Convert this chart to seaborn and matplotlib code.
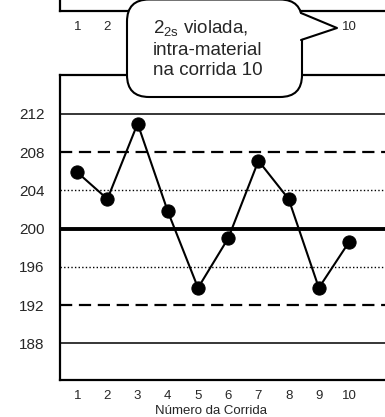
import matplotlib
matplotlib.use("Agg")
import matplotlib.pyplot as plt
from matplotlib.patches import FancyBboxPatch, Polygon
from matplotlib.lines import Line2D
from matplotlib.transforms import IdentityTransform
import seaborn as sns
import pandas as pd

# Run numbers and measured control values
runs = [1, 2, 3, 4, 5, 6, 7, 8, 9, 10]
values = [205.9, 203.1, 211.0, 201.8, 193.8, 199.0, 207.1, 203.1, 193.8, 198.6]

# Control limits: mean, ±1s, ±2s, ±3s
mean_line = 200
sd_lines = [204, 196]
two_sd_lines = [208, 192]
three_sd_lines = [212, 188]
y_ticks = [188, 192, 196, 200, 204, 208, 212]
x_label = "Número da Corrida"
callout_text = "2$_{\\mathrm{2s}}$ violada,\nintra-material\nna corrida 10"
# runs of the upper panel that sit under the callout
covered_runs = [3, 4, 5, 6, 7, 8, 9]

sns.set_style("white")
plt.rcParams["font.family"] = ["Liberation Sans", "DejaVu Sans"]
plt.rcParams["mathtext.fontset"] = "custom"
plt.rcParams["mathtext.rm"] = "Liberation Sans"
plt.rcParams["mathtext.it"] = "Liberation Sans"

W, H = 385, 417
fig = plt.figure(figsize=(W / 100, H / 100), dpi=100)
fig.patch.set_facecolor("white")


def fx(px):
    return px / W


def fy(py):
    return 1 - py / H


xlim = (0.43, 11.19)

# Main control chart
ax = fig.add_axes([fx(60), fy(380), fx(385) - fx(60), fy(75) - fy(380)])
df = pd.DataFrame({"run": runs, "value": values})

for y in three_sd_lines:
    ax.axhline(y, color="black", lw=1.1, zorder=1)
for y in two_sd_lines:
    ax.axhline(y, color="black", lw=1.6, ls=(0, (5.5, 3)), zorder=1)
for y in sd_lines:
    ax.axhline(y, color="black", lw=1.0, ls=(0, (1, 1.6)), zorder=1)
ax.axhline(mean_line, color="black", lw=2.8, zorder=1)

sns.lineplot(data=df, x="run", y="value", ax=ax, color="black", lw=1.5,
             marker="o", markersize=9.5, markeredgecolor="black", zorder=3)

ax.set_xlim(*xlim)
ax.set_ylim(184.16, 216.08)
ax.set_xticks(runs)
ax.set_xticklabels([str(r) for r in runs], fontsize=9.5)
ax.set_yticks(y_ticks)
ax.set_yticklabels([str(t) for t in y_ticks], fontsize=11)
ax.tick_params(axis="x", length=0, pad=7.5)
ax.tick_params(axis="y", length=0, pad=11)
ax.set_xlabel(x_label, fontsize=9.5)
ax.xaxis.set_label_coords(0.466, -0.083)
ax.set_ylabel("")
for side in ["left", "bottom", "top"]:
    ax.spines[side].set_visible(True)
    ax.spines[side].set_color("black")
    ax.spines[side].set_linewidth(1.6)
ax.spines["right"].set_visible(False)

# Upper panel, cut off at the top edge
top_runs = [r for r in runs if r not in covered_runs]
ax_top = fig.add_axes([fx(60), fy(11), fx(385) - fx(60), 0.1])
ax_top.set_xlim(*xlim)
ax_top.set_xticks(top_runs)
ax_top.set_xticklabels([str(r) for r in top_runs], fontsize=9.5)
ax_top.set_yticks([])
ax_top.tick_params(axis="x", length=0, pad=7.5)
ax_top.spines["left"].set_linewidth(1.6)
ax_top.spines["bottom"].set_linewidth(1.6)
ax_top.spines["left"].set_color("black")
ax_top.spines["bottom"].set_color("black")
ax_top.spines["top"].set_visible(False)
ax_top.spines["right"].set_visible(False)

# Speech-bubble callout
pix = IdentityTransform()
bubble = FancyBboxPatch((127, H - 97), 175, 97.5,
                        boxstyle="round,pad=0,rounding_size=22",
                        transform=pix, fc="white", ec="black", lw=1.5,
                        zorder=10)
fig.add_artist(bubble)
tail_fill = Polygon([(299, H - 13), (337, H - 28), (299, H - 40)],
                    closed=True, transform=pix, fc="white", ec="none",
                    zorder=11)
fig.add_artist(tail_fill)
tail_edge = Line2D([301, 337, 301], [H - 13, H - 28, H - 40],
                   transform=pix, color="black", lw=1.5, zorder=12)
fig.add_artist(tail_edge)
fig.text(fx(153), fy(18.5), callout_text, ha="left", va="top",
         fontsize=13.5, linespacing=1.25, zorder=13)

fig.savefig("out.png", dpi=100, facecolor="white")
